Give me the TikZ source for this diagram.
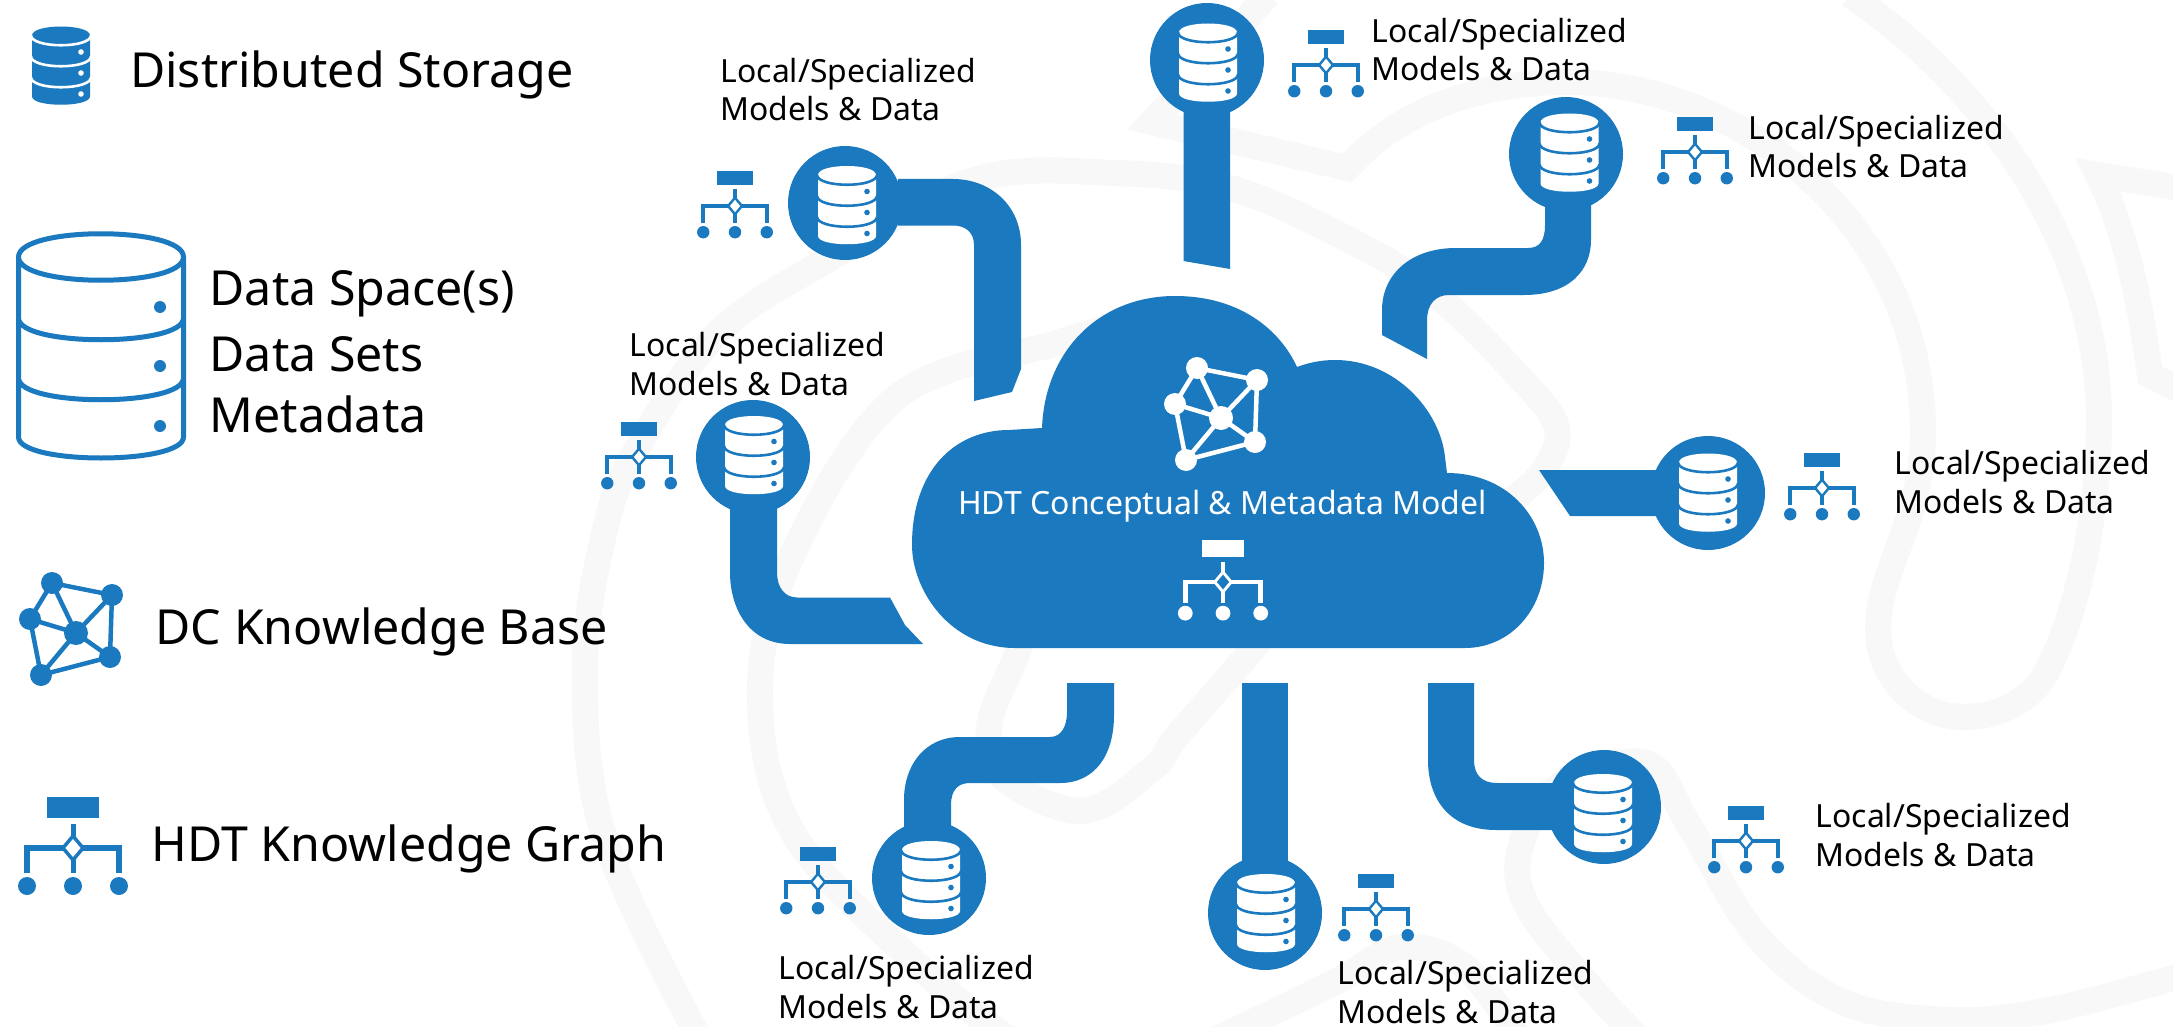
\documentclass[tikz,border=0pt]{standalone}
\usepackage{fontspec}
\setmainfont{Noto Sans}
\definecolor{hdtblue}{HTML}{1B79BF}
\definecolor{wm}{HTML}{F8F8F8}
\tikzset{
  wmark/.style={draw=wm,line width=26pt,miter limit=10},
  pipe/.style={fill=hdtblue},
  ball/.style={fill=hdtblue},
  lbl/.style={anchor=base west,inner sep=0pt,align=left,font=\fontsize{31.9}{38.5}\selectfont},
  big/.style={anchor=base west,inner sep=0pt,font=\fontsize{48.3}{56}\selectfont}
}
\newcommand{\dbicon}[4]{%
\begin{scope}[shift={(#1,#2)}]
\fill[#3] (-29,-30) .. controls (-29,-42) and (29,-42) .. (29,-30) -- (29,31) .. controls (29,42) and (-29,42) .. (-29,31) -- cycle;
\draw[#4,line width=2.6pt] (-30,-30) .. controls (-29,-17) and (29,-17) .. (30,-30);
\draw[#4,line width=2.6pt] (-30,-9) .. controls (-29,4) and (29,4) .. (30,-9);
\draw[#4,line width=2.6pt] (-30,12) .. controls (-29,25) and (29,25) .. (30,12);
\fill[#4] (20,-13.5) circle (2.8pt) (20,7.5) circle (2.8pt) (20,28.5) circle (2.8pt);
\end{scope}}
\newcommand{\kbicon}[3]{%
\begin{scope}[shift={(#1,#2)}]
\draw[#3,line width=4.5pt] (-24,-50) -- (36,-38) -- (0,0) -- cycle (-24,-50) -- (-46,-14) -- (0,0) -- (34,24) -- (36,-38) (-46,-14) -- (-35,42) -- (0,0) (-35,42) -- (34,24);
\fill[#3] (-24,-50) circle (11pt) (36,-38) circle (11pt) (-46,-14) circle (11pt) (0,0) circle (12pt) (34,24) circle (11pt) (-35,42) circle (11pt);
\end{scope}}
\newcommand{\kgicon}[5]{%
\begin{scope}[shift={(#1,#2)},scale=#3]
\fill[#4] (-26,-51) rectangle (26,-30);
\draw[#4,line width=#3*5pt] (0,-24) -- (0,25);
\draw[#4,line width=#3*5.5pt] (-46,25) -- (-46,0) -- (46,0) -- (46,25);
\fill[#4] (-46,38) circle (9pt) (0,38) circle (9pt) (46,38) circle (9pt);
\filldraw[fill=#5,draw=#4,line width=#3*3.5pt] (-10,0) -- (0,-12) -- (10,0) -- (0,12) -- cycle;
\end{scope}}
\begin{document}
\begin{tikzpicture}[x=1pt,y=-1pt]
\useasboundingbox (0,0) rectangle (2173,1027);
\fill[white] (0,0) rectangle (2173,1027);
% watermark
\begin{scope}
\clip (0,0) rectangle (2173,1027);
\draw[wmark] plot[smooth,tension=.6] coordinates {(700,1040) (604,836) (585,668) (604,534) (636,450) (718,333) (827,260) (974,180) (1114,173) (1237,190) (1374,253) (1442,300) (1510,367) (1556,425) (1543,471) (1500,510)};
\draw[wmark] plot[smooth,tension=.6] coordinates {(1100,330) (1057,343) (897,397) (790,560) (760,700) (795,836) (923,970) (1010,1040)};
\draw[wmark] plot[smooth,tension=.6] coordinates {(1030,600) (1018,651) (990,722) (1000,775) (1082,811) (1152,769) (1178,735) (1251,651) (1290,600)};
\draw[wmark,line join=miter] (1268,-5) -- (1152,122) -- (1347,168) .. controls (1400,110) and (1480,80) .. (1579,82) .. controls (1750,90) and (1923,230) .. (1923,432) .. controls (1923,520) and (1878,570) .. (1878,629) .. controls (1878,680) and (1920,717) .. (1963,717) .. controls (2000,717) and (2030,700) .. (2045,675) .. controls (2075,620) and (2099,520) .. (2099,419) .. controls (2099,250) and (1990,90) .. (1850,-5);
\draw[wmark] plot[smooth,tension=.6] coordinates {(1640,1040) (1586,982) (1526,904) (1521,845) (1560,785) (1646,763) (1689,825) (1757,936) (1843,1002) (1950,1020) (2050,1010) (2180,976)};
\draw[wmark] plot[smooth,tension=.6] coordinates {(1215,1040) (1337,981) (1400,947) (1465,967) (1520,1040)};
\draw[wmark,line join=miter] (2180,188) -- (2098,175) .. controls (2125,230) and (2140,300) .. (2150,375) -- (2180,390);
\end{scope}
% cloud
\fill[hdtblue] (1042,428) -- (1009,430) .. controls (955,430) and (912,470) .. (912,545)
 .. controls (912,590) and (950,648) .. (1015,648) -- (1465,648)
 .. controls (1510,648) and (1544,610) .. (1544,563)
 .. controls (1544,515) and (1505,473) .. (1447,473) -- (1445,457)
 .. controls (1440,410) and (1395,360) .. (1335,360)
 .. controls (1320,360) and (1308,363) .. (1297,367)
 .. controls (1280,330) and (1240,296) .. (1175,296)
 .. controls (1100,296) and (1045,350) .. (1042,428) -- cycle;
% pipes
\fill[pipe] (898,179) -- (953,179) .. controls (990,179) and (1021,205) .. (1021,245) -- (1021,369) -- (1012,392) -- (974,401) -- (974,245) .. controls (974,232) and (965,225.5) .. (953,225.5) -- (898,225.5) -- cycle;
\fill[pipe] (777,505) -- (777,572) .. controls (777,588) and (785,597.5) .. (797,597.5) -- (890,597.5) -- (905,625) -- (923,644) -- (790,644) .. controls (750,644) and (730,610) .. (730,572) -- (730,505) -- cycle;
\fill[pipe] (1183.5,100) -- (1230,100) -- (1230,269) -- (1183.5,261) -- cycle;
\fill[pipe] (1591,200) -- (1591,240) .. controls (1591,270) and (1570,295) .. (1524,295) -- (1449,295) .. controls (1435,295) and (1427,305) .. (1427,320) -- (1427,359) -- (1382,335) -- (1382,310) .. controls (1382,275) and (1410,248) .. (1456,248) -- (1528,248) .. controls (1540,248) and (1545,240) .. (1545,225) -- (1545,200) -- cycle;
\fill[pipe] (1539,470) -- (1660,470) -- (1660,516) -- (1570,516) -- cycle;
\fill[pipe] (1428,683) -- (1474,683) -- (1474,760) .. controls (1474,775) and (1482,783) .. (1497,783) -- (1565,783) -- (1565,830) -- (1496,830) .. controls (1450,830) and (1428,800) .. (1428,760) -- cycle;
\fill[pipe] (1242,683) -- (1288,683) -- (1288,880) -- (1242,880) -- cycle;
\fill[pipe] (1067,683) -- (1114,683) -- (1114,715) .. controls (1114,755) and (1095,783) .. (1060,783) -- (970,783) .. controls (958,783) and (951,790) .. (951,805) -- (951,830) -- (904,830) -- (904,800) .. controls (904,765) and (925,737) .. (960,737) -- (1050,737) .. controls (1062,737) and (1067,725) .. (1067,712) -- cycle;
% balls
\fill[ball] (1207,60) circle (57pt);
\fill[ball] (1566,154) circle (57pt);
\fill[ball] (845,203) circle (57pt);
\fill[ball] (753,457) circle (57pt);
\fill[ball] (1708,493) circle (57pt);
\fill[ball] (1604,807) circle (57pt);
\fill[ball] (1265,913) circle (57pt);
\fill[ball] (929,878) circle (57pt);
% db icons
\dbicon{61}{65.5}{hdtblue}{white}
\dbicon{1208}{62.5}{white}{hdtblue}
\dbicon{1569.5}{152.5}{white}{hdtblue}
\dbicon{847}{205}{white}{hdtblue}
\dbicon{754}{455}{white}{hdtblue}
\dbicon{1708}{492.5}{white}{hdtblue}
\dbicon{1603}{813}{white}{hdtblue}
\dbicon{1266}{913}{white}{hdtblue}
\dbicon{931}{880}{white}{hdtblue}
% large db
\draw[hdtblue,line width=5pt] (18.5,257) .. controls (18.5,226) and (183.5,226) .. (183.5,257) .. controls (183.5,288) and (18.5,288) .. cycle
 (18.5,257) -- (18.5,437) .. controls (18.5,465) and (183.5,465) .. (183.5,437) -- (183.5,257)
 (18.5,318) .. controls (18.5,347) and (183.5,347) .. (183.5,318)
 (18.5,378) .. controls (18.5,407) and (183.5,407) .. (183.5,378);
\fill[hdtblue] (160,307) circle (6pt) (160,366) circle (6pt) (160,426) circle (6pt);
% kb icons
\kbicon{76}{633}{hdtblue}
\kbicon{1221}{418}{white}
% kg icons
\kgicon{73}{848}{1}{hdtblue}{white}
\kgicon{1223}{582}{.82}{white}{hdtblue}
\kgicon{1326}{65}{.69}{hdtblue}{white}
\kgicon{1695}{152}{.69}{hdtblue}{white}
\kgicon{735}{206}{.69}{hdtblue}{white}
\kgicon{639}{457}{.69}{hdtblue}{white}
\kgicon{1822}{488}{.69}{hdtblue}{white}
\kgicon{1746}{841}{.69}{hdtblue}{white}
\kgicon{1376}{909}{.69}{hdtblue}{white}
\kgicon{818}{882}{.69}{hdtblue}{white}
% texts
\node[big] (t1) at (130,88) {Distributed Storage};
\node[big] (t2) at (209.5,305) {Data Space(s)};
\node[big] (t3) at (209.5,371) {Data Sets};
\node[big] (t4) at (209.5,432) {Metadata};
\node[big] (t5) at (155.5,644) {DC Knowledge Base};
\node[big] (t6) at (151.5,861) {HDT Knowledge Graph};
\node[anchor=base west,inner sep=0pt,text=white,font=\fontsize{32}{38}\selectfont] (t7) at (958,514) {HDT Conceptual \& Metadata Model};
\node[lbl] (l1) at (720.5,121) {Local/Specialized\\Models \& Data};
\node[lbl] (l2) at (629.5,395) {Local/Specialized\\Models \& Data};
\node[lbl] (l3) at (1371.5,81) {Local/Specialized\\Models \& Data};
\node[lbl] (l4) at (1748.5,178) {Local/Specialized\\Models \& Data};
\node[lbl] (l5) at (1894.5,513) {Local/Specialized\\Models \& Data};
\node[lbl] (l6) at (1815.5,866) {Local/Specialized\\Models \& Data};
\node[lbl] (l7) at (1337.5,1023) {Local/Specialized\\Models \& Data};
\node[lbl] (l8) at (778.5,1018) {Local/Specialized\\Models \& Data};
\end{tikzpicture}
\end{document}
